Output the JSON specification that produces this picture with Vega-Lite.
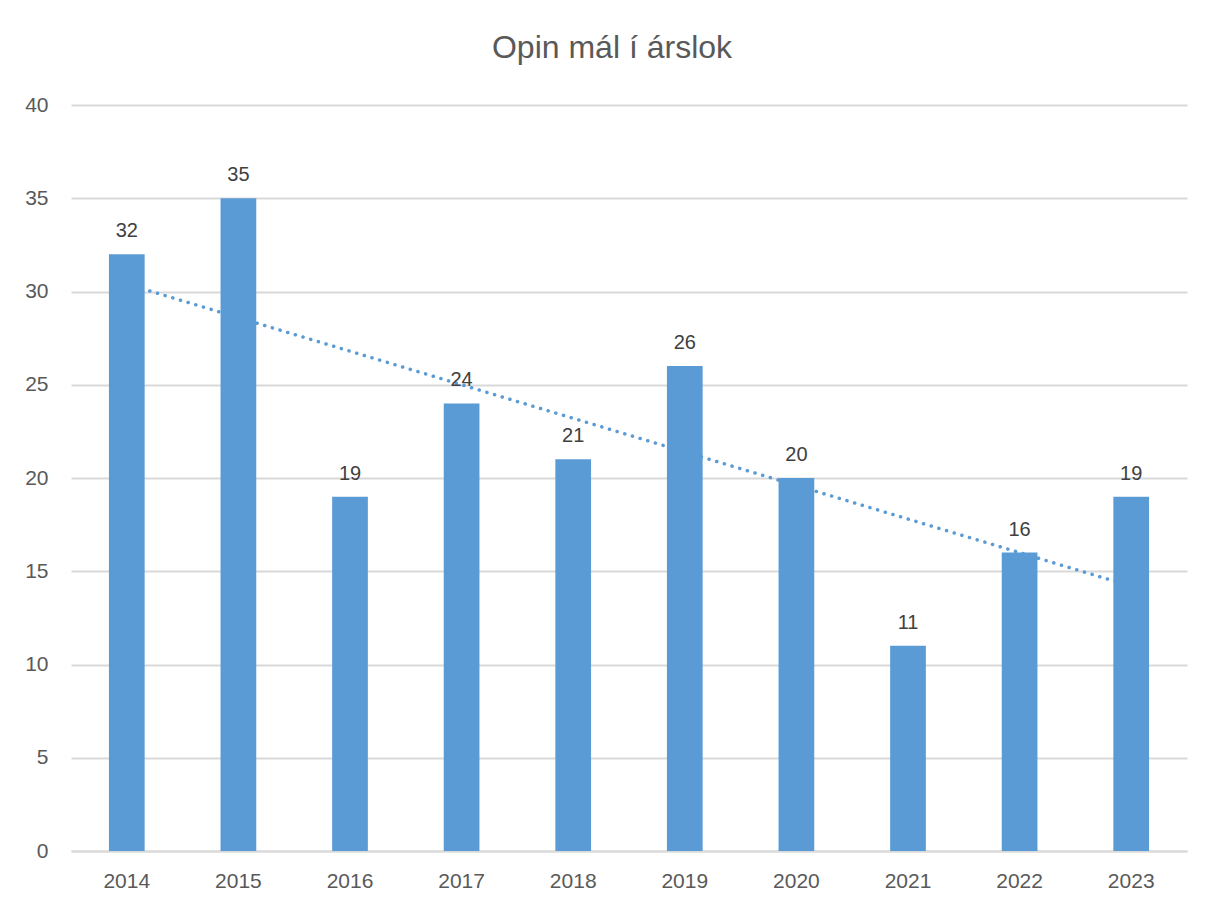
{
  "$schema": "https://vega.github.io/schema/vega-lite/v6.json",
  "width": 1116,
  "height": 746,
  "autosize": {"type": "none"},
  "padding": {"left": 71, "top": 105, "right": 25, "bottom": 53},
  "background": "white",
  "title": {
    "text": "Opin mál í árslok",
    "fontSize": 32,
    "font": "Liberation Sans",
    "fontWeight": "normal",
    "color": "#595959",
    "anchor": "middle",
    "dx": -17,
    "offset": 29
  },
  "data": {
    "values": [
      {"year": 2014, "value": 32},
      {"year": 2015, "value": 35},
      {"year": 2016, "value": 19},
      {"year": 2017, "value": 24},
      {"year": 2018, "value": 21},
      {"year": 2019, "value": 26},
      {"year": 2020, "value": 20},
      {"year": 2021, "value": 11},
      {"year": 2022, "value": 16},
      {"year": 2023, "value": 19}
    ]
  },
  "config": {
    "view": {"stroke": null},
    "axis": {
      "labelFont": "Liberation Sans",
      "labelFontSize": 21,
      "labelColor": "#595959",
      "ticks": false,
      "title": null
    }
  },
  "encoding": {
    "x": {
      "field": "year",
      "type": "ordinal",
      "scale": {"paddingInner": 0.68, "paddingOuter": 0.34},
      "axis": {
        "labelAngle": 0,
        "domainColor": "#d9d9d9",
        "domainWidth": 2,
        "grid": false,
        "labelPadding": 19
      }
    },
    "y": {
      "field": "value",
      "type": "quantitative",
      "scale": {"domain": [0, 40]},
      "axis": {
        "values": [0, 5, 10, 15, 20, 25, 30, 35, 40],
        "labelOverlap": false,
        "domain": false,
        "gridColor": "#d9d9d9",
        "gridWidth": 2,
        "labelPadding": 23
      }
    }
  },
  "layer": [
    {
      "transform": [{"regression": "value", "on": "year", "method": "linear"}],
      "mark": {
        "type": "line",
        "color": "#5b9bd5",
        "strokeWidth": 3.5,
        "strokeDash": [0.1, 7.9],
        "strokeCap": "round"
      }
    },
    {
      "mark": {"type": "bar", "color": "#5b9bd5"}
    },
    {
      "mark": {
        "type": "text",
        "baseline": "alphabetic",
        "dy": -17,
        "fontSize": 20,
        "font": "Liberation Sans",
        "color": "#404040"
      },
      "encoding": {
        "text": {"field": "value", "type": "quantitative"}
      }
    }
  ]
}
